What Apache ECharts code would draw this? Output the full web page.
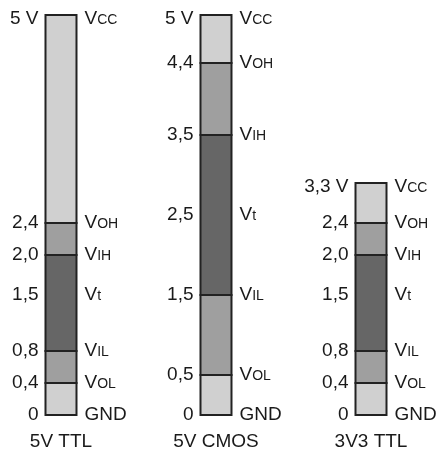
<!DOCTYPE html>
<html>
<head>
<meta charset="utf-8">
<script src="https://cdn.jsdelivr.net/npm/echarts@6/dist/echarts.min.js"></script>
<style>
  html, body { margin: 0; padding: 0; background: #ffffff; }
  #chart { width: 439px; height: 453px; }
</style>
</head>
<body>
<div id="chart"></div>
<script>
// ---- data (volts) ----
const categories = ['5V TTL', '5V CMOS', '3V3 TTL'];

// band boundaries, bottom to top
const ttl5Bounds  = [0, 0.4, 0.8, 2.0, 2.4, 5];
const cmos5Bounds = [0, 0.5, 1.5, 3.5, 4.4, 5];
const ttl33Bounds = [0, 0.4, 0.8, 2.0, 2.4, 2.9]; // top drawn at ≈2.9 on the shared scale (labelled 3,3 V)

// left-hand level labels
const ttl5TickVals  = [0, 0.4, 0.8, 1.5, 2.0, 2.4, 5];
const ttl5TickText  = ['0', '0,4', '0,8', '1,5', '2,0', '2,4', '5 V'];
const cmos5TickVals = [0, 0.5, 1.5, 2.5, 3.5, 4.4, 5];
const cmos5TickText = ['0', '0,5', '1,5', '2,5', '3,5', '4,4', '5 V'];
const ttl33TickVals = [0, 0.4, 0.8, 1.5, 2.0, 2.4, 2.9];
const ttl33TickText = ['0', '0,4', '0,8', '1,5', '2,0', '2,4', '3,3 V'];

// right-hand level names
const levelNames = ['GND', 'VOL', 'VIL', 'Vt', 'VIH', 'VOH', 'VCC'];

// ---- build series data ----
const allBounds = [ttl5Bounds, cmos5Bounds, ttl33Bounds];
const allTickVals = [ttl5TickVals, cmos5TickVals, ttl33TickVals];
const allTickText = [ttl5TickText, cmos5TickText, ttl33TickText];

const shades = ['#d0d0d0', '#9f9f9f', '#666666', '#9f9f9f', '#d0d0d0'];

const bandData = [];
allBounds.forEach((b, i) => {
  for (let j = 0; j < b.length - 1; j++) bandData.push([i, b[j], b[j + 1], j]);
});

const labelRows = [];
allTickVals.forEach((vals, i) => {
  vals.forEach((v, k) => {
    labelRows.push({ cat: i, val: v, left: allTickText[i][k], right: levelNames[k], top: k === vals.length - 1 });
  });
});

const FONT = "'Liberation Sans', Arial, sans-serif";
const TXT = '#1a1a1a';
const BAR_W = 31;

function richName(name) {
  if (name === 'GND') return '{v|GND}';
  return '{v|V}{s|' + name.slice(1) + '}';
}

const chart = echarts.init(document.getElementById('chart'), null, { renderer: 'canvas' });

chart.setOption({
  backgroundColor: '#ffffff',
  animation: false,
  grid: { left: 0, right: 0, top: 15, bottom: 38 },
  xAxis: { type: 'value', min: -0.3935, max: 2.4387, show: false },
  yAxis: { type: 'value', min: 0, max: 5, show: false },
  series: [
    {
      type: 'custom',
      data: bandData,
      renderItem: function (params, api) {
        const x = api.value(0), lo = api.value(1), hi = api.value(2), s = api.value(3);
        const p0 = api.coord([x, lo]);
        const p1 = api.coord([x, hi]);
        return {
          type: 'rect',
          shape: { x: p0[0] - BAR_W / 2, y: p1[1], width: BAR_W, height: p0[1] - p1[1] },
          style: { fill: shades[s], stroke: '#222222', lineWidth: 2 }
        };
      }
    },
    {
      type: 'custom',
      data: labelRows.map(r => [r.cat, r.val]),
      renderItem: function (params, api) {
        const r = labelRows[params.dataIndex];
        const p = api.coord([api.value(0), api.value(1)]);
        const dy = r.top ? 4 : 0;
        return {
          type: 'group',
          children: [
            {
              type: 'text',
              x: p[0] - BAR_W / 2 - 7,
              y: p[1] + dy,
              style: {
                text: r.left, fill: TXT, fontSize: 19, fontFamily: FONT,
                align: 'right', verticalAlign: 'middle'
              }
            },
            {
              type: 'text',
              x: p[0] + BAR_W / 2 + 8,
              y: p[1] + dy,
              style: {
                text: richName(r.right), fill: TXT, fontFamily: FONT,
                align: 'left', verticalAlign: 'middle',
                rich: {
                  v: { fontSize: 19, fontFamily: FONT, fill: TXT, verticalAlign: 'bottom' },
                  s: { fontSize: 14, fontFamily: FONT, fill: TXT, verticalAlign: 'bottom', padding: [0, 0, 1, 0] }
                }
              }
            }
          ]
        };
      }
    },
    {
      type: 'custom',
      data: categories.map((c, i) => [i, 0]),
      renderItem: function (params, api) {
        const p = api.coord([api.value(0), api.value(1)]);
        return {
          type: 'text',
          x: p[0],
          y: p[1] + 27,
          style: {
            text: categories[params.dataIndex], fill: TXT, fontSize: 19, fontFamily: FONT,
            align: 'center', verticalAlign: 'middle'
          }
        };
      }
    }
  ]
});
</script>
</body>
</html>
